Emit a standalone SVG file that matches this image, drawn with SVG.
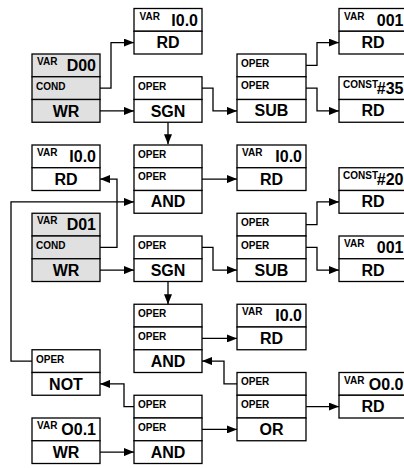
<svg xmlns="http://www.w3.org/2000/svg" width="404" height="468" viewBox="0 0 404 468">
<defs>
<style>
.b{fill:#fff;stroke:#000;stroke-width:1.3}
.g{fill:#e0e0e0;stroke:#000;stroke-width:1.3}
.l{font-family:"Liberation Sans",Arial,sans-serif;font-weight:bold;font-size:10px;fill:#000}
.v{font-family:"Liberation Sans",Arial,sans-serif;font-weight:bold;font-size:16px;fill:#000;text-anchor:end}
.m{font-family:"Liberation Sans",Arial,sans-serif;font-weight:bold;font-size:16px;fill:#000;text-anchor:middle}
.c{fill:none;stroke:#000;stroke-width:1.3}
</style>
<marker id="ah" markerWidth="10" markerHeight="8" refX="10" refY="4" orient="auto" markerUnits="userSpaceOnUse">
<path d="M0,0 L10,4 L0,8 Z" fill="#000"/>
</marker>
</defs>
<rect width="404" height="468" fill="#fff"/>

<g id="connectors" class="c" marker-end="url(#ah)">
<polyline points="100,88.1 111,88.1 111,42.6 134,42.6"/>
<polyline points="100,110.9 134,110.9"/>
<polyline points="168,122.25 168,144.3"/>
<polyline points="202,88.1 213,88.1 213,110.9 237,110.9"/>
<polyline points="306,65.4 317,65.4 317,42.6 339,42.6"/>
<polyline points="306,88.1 317,88.1 317,110.9 339,110.9"/>
<polyline points="202,179.1 237,179.1"/>
<polyline points="100,247.4 117,247.4 117,179.1 100,179.1"/>
<polyline points="32,361.1 11,361.1 11,201.9 134,201.9"/>
<polyline points="100,270.1 134,270.1"/>
<polyline points="168,281.5 168,304.25"/>
<polyline points="202,247.4 213,247.4 213,270.1 237,270.1"/>
<polyline points="306,224.6 317,224.6 317,201.9 339,201.9"/>
<polyline points="306,247.4 317,247.4 317,270.1 339,270.1"/>
<polyline points="202,338.4 237,338.4"/>
<polyline points="237,383.9 224,383.9 224,361.1 202,361.1"/>
<polyline points="134,406.6 124,406.6 124,383.9 100,383.9"/>
<polyline points="100,452.1 134,452.1"/>
<polyline points="202,429.4 237,429.4"/>
<polyline points="306,406.6 339,406.6"/>
</g>

<!-- Column A -->
<g id="D00">
<rect class="g" x="32" y="54" width="68" height="22.75"/>
<rect class="g" x="32" y="76.75" width="68" height="22.75"/>
<rect class="g" x="32" y="99.5" width="68" height="22.75"/>
<text class="l" x="37" y="65">VAR</text><text class="v" x="96" y="71">D00</text>
<text class="l" x="36" y="89.5">COND</text>
<text class="m" x="66" y="116.75">WR</text>
</g>
<g id="I00_A">
<rect class="b" x="32" y="145" width="68" height="22.75"/>
<rect class="b" x="32" y="167.75" width="68" height="22.75"/>
<text class="l" x="37" y="156">VAR</text><text class="v" x="96" y="162">I0.0</text>
<text class="m" x="66" y="184.5">RD</text>
</g>
<g id="D01">
<rect class="g" x="32" y="213.25" width="68" height="22.75"/>
<rect class="g" x="32" y="236" width="68" height="22.75"/>
<rect class="g" x="32" y="258.75" width="68" height="22.75"/>
<text class="l" x="37" y="224.25">VAR</text><text class="v" x="96" y="230.25">D01</text>
<text class="l" x="36" y="248.75">COND</text>
<text class="m" x="66" y="275.75">WR</text>
</g>
<g id="NOT">
<rect class="b" x="32" y="349.75" width="68" height="22.75"/>
<rect class="b" x="32" y="372.5" width="68" height="22.75"/>
<text class="l" x="36" y="362.5">OPER</text>
<text class="m" x="66" y="389.5">NOT</text>
</g>
<g id="O01">
<rect class="b" x="32" y="418" width="68" height="22.75"/>
<rect class="b" x="32" y="440.75" width="68" height="22.75"/>
<text class="l" x="37" y="429">VAR</text><text class="v" x="96" y="435">O0.1</text>
<text class="m" x="66" y="457.75">WR</text>
</g>

<!-- Column B -->
<g id="I00_B1">
<rect class="b" x="134" y="8.5" width="68" height="22.75"/>
<rect class="b" x="134" y="31.25" width="68" height="22.75"/>
<text class="l" x="139.5" y="19.5">VAR</text><text class="v" x="198" y="25.5">I0.0</text>
<text class="m" x="168" y="48">RD</text>
</g>
<g id="SGN1">
<rect class="b" x="134" y="76.75" width="68" height="22.75"/>
<rect class="b" x="134" y="99.5" width="68" height="22.75"/>
<text class="l" x="138" y="89.5">OPER</text>
<text class="m" x="168" y="116.5">SGN</text>
</g>
<g id="AND1">
<rect class="b" x="134" y="145" width="68" height="22.75"/>
<rect class="b" x="134" y="167.75" width="68" height="22.75"/>
<rect class="b" x="134" y="190.5" width="68" height="22.75"/>
<text class="l" x="138" y="157.5">OPER</text>
<text class="l" x="138" y="180.25">OPER</text>
<text class="m" x="168" y="207.25">AND</text>
</g>
<g id="SGN2">
<rect class="b" x="134" y="236" width="68" height="22.75"/>
<rect class="b" x="134" y="258.75" width="68" height="22.75"/>
<text class="l" x="138" y="248.75">OPER</text>
<text class="m" x="168" y="275.75">SGN</text>
</g>
<g id="AND2">
<rect class="b" x="134" y="304.25" width="68" height="22.75"/>
<rect class="b" x="134" y="327" width="68" height="22.75"/>
<rect class="b" x="134" y="349.75" width="68" height="22.75"/>
<text class="l" x="138" y="316.75">OPER</text>
<text class="l" x="138" y="339.5">OPER</text>
<text class="m" x="168" y="366.5">AND</text>
</g>
<g id="AND3">
<rect class="b" x="134" y="395.25" width="68" height="22.75"/>
<rect class="b" x="134" y="418" width="68" height="22.75"/>
<rect class="b" x="134" y="440.75" width="68" height="22.75"/>
<text class="l" x="138" y="407.75">OPER</text>
<text class="l" x="138" y="430.5">OPER</text>
<text class="m" x="168" y="457.5">AND</text>
</g>

<!-- Column C -->
<g id="SUB1">
<rect class="b" x="237" y="54" width="69" height="22.75"/>
<rect class="b" x="237" y="76.75" width="69" height="22.75"/>
<rect class="b" x="237" y="99.5" width="69" height="22.75"/>
<text class="l" x="241" y="66.5">OPER</text>
<text class="l" x="241" y="89.25">OPER</text>
<text class="m" x="271.5" y="116.25">SUB</text>
</g>
<g id="I00_C1">
<rect class="b" x="237" y="145" width="69" height="22.75"/>
<rect class="b" x="237" y="167.75" width="69" height="22.75"/>
<text class="l" x="242" y="156">VAR</text><text class="v" x="302" y="162">I0.0</text>
<text class="m" x="271.5" y="184.5">RD</text>
</g>
<g id="SUB2">
<rect class="b" x="237" y="213.25" width="69" height="22.75"/>
<rect class="b" x="237" y="236" width="69" height="22.75"/>
<rect class="b" x="237" y="258.75" width="69" height="22.75"/>
<text class="l" x="241" y="225.75">OPER</text>
<text class="l" x="241" y="248.5">OPER</text>
<text class="m" x="271.5" y="275.5">SUB</text>
</g>
<g id="I00_C2">
<rect class="b" x="237" y="304.25" width="69" height="22.75"/>
<rect class="b" x="237" y="327" width="69" height="22.75"/>
<text class="l" x="242" y="315.25">VAR</text><text class="v" x="302" y="321.25">I0.0</text>
<text class="m" x="271.5" y="343.75">RD</text>
</g>
<g id="OR">
<rect class="b" x="237" y="372.5" width="69" height="22.75"/>
<rect class="b" x="237" y="395.25" width="69" height="22.75"/>
<rect class="b" x="237" y="418" width="69" height="22.75"/>
<text class="l" x="241" y="385">OPER</text>
<text class="l" x="241" y="407.75">OPER</text>
<text class="m" x="271.5" y="434.75">OR</text>
</g>

<!-- Column D -->
<g id="V001_1">
<rect class="b" x="339" y="8.5" width="68" height="22.75"/>
<rect class="b" x="339" y="31.25" width="68" height="22.75"/>
<text class="l" x="344" y="19.5">VAR</text><text class="v" x="403.5" y="25.5">001</text>
<text class="m" x="373" y="48">RD</text>
</g>
<g id="C35">
<rect class="b" x="339" y="76.75" width="68" height="22.75"/>
<rect class="b" x="339" y="99.5" width="68" height="22.75"/>
<text class="l" x="343" y="87.75">CONST</text><text class="v" x="403.5" y="93.75">#35</text>
<text class="m" x="373" y="116.25">RD</text>
</g>
<g id="C20">
<rect class="b" x="339" y="167.75" width="68" height="22.75"/>
<rect class="b" x="339" y="190.5" width="68" height="22.75"/>
<text class="l" x="343" y="178.75">CONST</text><text class="v" x="403.5" y="184.75">#20</text>
<text class="m" x="373" y="207.25">RD</text>
</g>
<g id="V001_2">
<rect class="b" x="339" y="236" width="68" height="22.75"/>
<rect class="b" x="339" y="258.75" width="68" height="22.75"/>
<text class="l" x="344" y="247">VAR</text><text class="v" x="403.5" y="253">001</text>
<text class="m" x="373" y="275.5">RD</text>
</g>
<g id="O00">
<rect class="b" x="339" y="372.5" width="68" height="22.75"/>
<rect class="b" x="339" y="395.25" width="68" height="22.75"/>
<text class="l" x="344" y="383.5">VAR</text><text class="v" x="403.5" y="389.5">O0.0</text>
<text class="m" x="373" y="412">RD</text>
</g>
</svg>
